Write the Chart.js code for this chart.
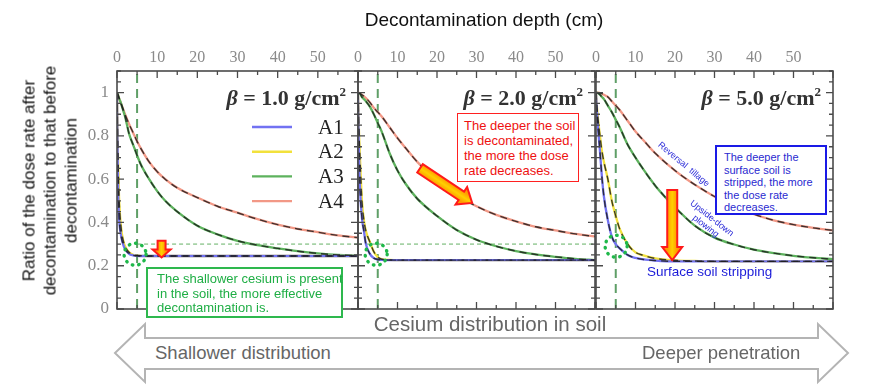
<!DOCTYPE html>
<html>
<head>
<meta charset="utf-8">
<title>Decontamination depth</title>
<script src="https://cdn.jsdelivr.net/npm/chart.js"></script>
<style>
  body { margin: 0; background: #fff; }
  #wrap { position: relative; width: 895px; height: 385px; overflow: hidden; font-family: "Liberation Sans", Arial, sans-serif; }
  #wrap canvas { position: absolute; }
  .txt { position: absolute; white-space: nowrap; }
  .box { position: absolute; background: #fff; box-sizing: border-box; white-space: nowrap; }
</style>
</head>
<body>
<div id="wrap">
  <svg width="895" height="385" style="position:absolute;left:0;top:0">
    <polygon points="115,353 145,324 145,338 818,338 818,324 848,353 818,382 818,369 145,369 145,382"
      fill="#fff" stroke="#b4b4b4" stroke-width="2" stroke-linejoin="miter"/>
  </svg>
</div>
<script>
// decontamination depth (cm), shared by every curve
const depth = [0, 0.25, 0.5, 1, 1.5, 2, 3, 4, 5, 6, 8, 10, 12, 15, 20, 25, 30, 35, 40, 45, 50, 55, 60];
const seriesNames = ['A1', 'A2', 'A3', 'A4'];
const betaValues = ['1.0', '2.0', '5.0'];

// ratio of dose rate after / before, beta = 1.0 g/cm2
const b1A1 = [1.0, 0.58, 0.43, 0.34, 0.30, 0.277, 0.255, 0.248, 0.246, 0.245, 0.245, 0.245, 0.245, 0.245, 0.245, 0.245, 0.245, 0.245, 0.245, 0.245, 0.245, 0.245, 0.245];
const b1A2 = [1.0, 0.70, 0.52, 0.38, 0.32, 0.29, 0.262, 0.251, 0.247, 0.246, 0.245, 0.245, 0.245, 0.245, 0.245, 0.245, 0.245, 0.245, 0.245, 0.245, 0.245, 0.245, 0.245];
const b1A3 = [1.0, 0.99, 0.975, 0.95, 0.92, 0.89, 0.81, 0.76, 0.71, 0.665, 0.60, 0.545, 0.50, 0.45, 0.385, 0.345, 0.315, 0.295, 0.28, 0.267, 0.257, 0.25, 0.247];
const b1A4 = [1.0, 0.99, 0.975, 0.95, 0.925, 0.90, 0.855, 0.815, 0.775, 0.74, 0.68, 0.635, 0.60, 0.56, 0.515, 0.475, 0.445, 0.415, 0.39, 0.37, 0.355, 0.34, 0.33];
// beta = 2.0 g/cm2
const b2A1 = [1.0, 0.72, 0.56, 0.42, 0.36, 0.30, 0.255, 0.235, 0.229, 0.227, 0.226, 0.226, 0.226, 0.226, 0.226, 0.226, 0.226, 0.226, 0.226, 0.226, 0.226, 0.226, 0.226];
const b2A2 = [1.0, 0.82, 0.70, 0.50, 0.41, 0.36, 0.31, 0.265, 0.24, 0.23, 0.227, 0.226, 0.226, 0.226, 0.226, 0.226, 0.226, 0.226, 0.226, 0.226, 0.226, 0.226, 0.226];
const b2A3 = [1.0, 0.998, 0.995, 0.98, 0.97, 0.96, 0.935, 0.90, 0.86, 0.82, 0.72, 0.64, 0.58, 0.51, 0.43, 0.365, 0.32, 0.29, 0.268, 0.252, 0.241, 0.232, 0.226];
const b2A4 = [1.0, 0.999, 0.997, 0.99, 0.983, 0.975, 0.955, 0.93, 0.91, 0.89, 0.84, 0.79, 0.745, 0.68, 0.595, 0.525, 0.475, 0.435, 0.405, 0.38, 0.363, 0.347, 0.335];
// beta = 5.0 g/cm2
const b3A1 = [1.0, 0.90, 0.84, 0.73, 0.61, 0.52, 0.41, 0.335, 0.30, 0.28, 0.25, 0.236, 0.229, 0.224, 0.22, 0.22, 0.22, 0.22, 0.22, 0.22, 0.22, 0.22, 0.22];
const b3A2 = [1.0, 0.93, 0.88, 0.80, 0.73, 0.68, 0.60, 0.50, 0.43, 0.37, 0.30, 0.262, 0.248, 0.234, 0.225, 0.222, 0.22, 0.22, 0.22, 0.22, 0.22, 0.22, 0.22];
const b3A3 = [1.0, 1.0, 0.998, 0.99, 0.98, 0.97, 0.94, 0.91, 0.875, 0.84, 0.76, 0.70, 0.645, 0.57, 0.47, 0.385, 0.33, 0.298, 0.274, 0.258, 0.246, 0.237, 0.23];
const b3A4 = [1.0, 1.0, 1.0, 0.998, 0.995, 0.99, 0.98, 0.96, 0.94, 0.92, 0.87, 0.82, 0.78, 0.72, 0.64, 0.575, 0.52, 0.475, 0.438, 0.41, 0.39, 0.375, 0.363];

const panelSeries = [[b1A1, b1A2, b1A3, b1A4], [b2A1, b2A2, b2A3, b2A4], [b3A1, b3A2, b3A3, b3A4]];
const refDepth = 5;     // green dashed vertical
const refRatio = 0.3;   // green dotted horizontal

const seriesColors = ['#7272f2', '#f2e13c', '#5db25d', '#f29886'];

// layout of the three panels (pixels)
const panelLeft = [117, 358, 596];
const panelRight = [358, 595, 833];
const plotTop = 71, plotH = 238, axisW = 45, axisH = 46, pad = 22;

// annotation marks per panel, in data units
const panelNotes = [
  { refFrom: 5, circle: [4.5, 0.253], legend: true,
    arrows: [{ from: [11.1, 0.315], to: [11.1, 0.238], shaft: 8, head: 18, headLen: 8 }] },
  { refFrom: 0, circle: [4.6, 0.253], legend: false,
    arrows: [{ from: [15.7, 0.65], to: [28.9, 0.49], shaft: 10, head: 21, headLen: 13 }] },
  { refFrom: null, circle: [5.1, 0.29], legend: false,
    arrows: [{ from: [19.3, 0.55], to: [19.3, 0.226], shaft: 10, head: 20, headLen: 13 }] }
];

function drawArrow(ctx, x1, y1, x2, y2, sw, hw, hl) {
  const dx = x2 - x1, dy = y2 - y1, L = Math.hypot(dx, dy);
  const ux = dx / L, uy = dy / L, nx = -uy, ny = ux;
  const hb = L - hl;
  const pts = [[0, -sw / 2], [hb, -sw / 2], [hb, -hw / 2], [L, 0], [hb, hw / 2], [hb, sw / 2], [0, sw / 2]];
  ctx.beginPath();
  pts.forEach((p, i) => {
    const X = x1 + p[0] * ux + p[1] * nx, Y = y1 + p[0] * uy + p[1] * ny;
    if (i === 0) ctx.moveTo(X, Y); else ctx.lineTo(X, Y);
  });
  ctx.closePath();
  const g = ctx.createLinearGradient(x1 + nx * sw / 2, y1 + ny * sw / 2, x1 - nx * sw / 2, y1 - ny * sw / 2);
  g.addColorStop(0, '#ff9a00');
  g.addColorStop(0.5, '#ffd000');
  g.addColorStop(1, '#ff9a00');
  ctx.fillStyle = g;
  ctx.fill();
  ctx.setLineDash([]);
  ctx.strokeStyle = '#ff1a1a';
  ctx.lineWidth = 2;
  ctx.lineJoin = 'miter';
  ctx.stroke();
}

const panelDecor = {
  id: 'panelDecor',
  beforeDatasetsDraw(chart, args, o) {
    const { ctx, chartArea: a, scales: { x, y } } = chart;
    ctx.save();
    if (o.refFrom !== null) {
      const yy = y.getPixelForValue(refRatio);
      ctx.strokeStyle = '#a6d2a6';
      ctx.lineWidth = 1.6;
      ctx.setLineDash([4, 3]);
      ctx.beginPath();
      ctx.moveTo(x.getPixelForValue(o.refFrom), yy);
      ctx.lineTo(a.right, yy);
      ctx.stroke();
    }
    const xx = x.getPixelForValue(refDepth);
    ctx.strokeStyle = '#5f9f67';
    ctx.lineWidth = 2;
    ctx.setLineDash([9, 6]);
    ctx.beginPath();
    ctx.moveTo(xx, a.top + 3);
    ctx.lineTo(xx, a.bottom);
    ctx.stroke();
    ctx.restore();
  },
  afterDraw(chart, args, o) {
    const { ctx, chartArea: a, scales: { x, y } } = chart;
    ctx.save();
    // dotted circle
    ctx.strokeStyle = '#1fb84a';
    ctx.lineWidth = 3.4;
    ctx.lineCap = 'round';
    ctx.setLineDash([0.5, 6]);
    ctx.beginPath();
    ctx.arc(x.getPixelForValue(o.circle[0]), y.getPixelForValue(o.circle[1]), 11, 0, Math.PI * 2);
    ctx.stroke();
    ctx.lineCap = 'butt';
    ctx.setLineDash([]);

    // frame with inward ticks
    ctx.strokeStyle = '#4a4a4a';
    ctx.lineWidth = 1.6;
    ctx.strokeRect(a.left, a.top, a.right - a.left, a.bottom - a.top);
    ctx.lineWidth = 1.3;
    ctx.beginPath();
    for (let d = 0; d <= 60; d += 5) {
      const len = d % 10 === 0 ? 7 : 4, px = x.getPixelForValue(d);
      ctx.moveTo(px, a.top); ctx.lineTo(px, a.top + len);
      ctx.moveTo(px, a.bottom); ctx.lineTo(px, a.bottom - len);
    }
    for (let k = 0; k <= 22; k++) {
      const len = k % 4 === 0 ? 7 : 4, py = y.getPixelForValue(k * 0.05);
      ctx.moveTo(a.left, py); ctx.lineTo(a.left + len, py);
      ctx.moveTo(a.right, py); ctx.lineTo(a.right - len, py);
    }
    ctx.stroke();

    // arrows
    o.arrows.forEach(ar => drawArrow(ctx,
      x.getPixelForValue(ar.from[0]), y.getPixelForValue(ar.from[1]),
      x.getPixelForValue(ar.to[0]), y.getPixelForValue(ar.to[1]),
      ar.shaft, ar.head, ar.headLen));

    // beta label
    const segs = [
      { t: '\u03b2', f: 'italic bold 22px "Liberation Serif"', dy: 0 },
      { t: ' = ' + o.beta + ' g/cm', f: 'bold 22px "Liberation Serif"', dy: 0 },
      { t: '2', f: 'bold 13px "Liberation Serif"', dy: -9 }
    ];
    let total = 0;
    segs.forEach(s => { ctx.font = s.f; s.w = ctx.measureText(s.t).width; total += s.w; });
    let cx = a.right - 12 - total;
    const base = a.top + 34;
    ctx.fillStyle = '#333';
    ctx.textAlign = 'left';
    ctx.textBaseline = 'alphabetic';
    segs.forEach(s => { ctx.font = s.f; ctx.fillText(s.t, cx, base + s.dy); cx += s.w; });

    // legend
    if (o.legend) {
      ctx.font = '21px "Liberation Serif"';
      ctx.textBaseline = 'middle';
      seriesNames.forEach((n, i) => {
        const ly = a.top + 56 + 24.7 * i;
        ctx.strokeStyle = seriesColors[i];
        ctx.lineWidth = 2.4;
        ctx.beginPath();
        ctx.moveTo(a.left + 135, ly);
        ctx.lineTo(a.left + 175, ly);
        ctx.stroke();
        ctx.fillStyle = '#222';
        ctx.fillText(n, a.left + 201, ly + 1);
      });
    }
    ctx.restore();
  }
};

const wrap = document.getElementById('wrap');

panelSeries.forEach((series, p) => {
  const plotW = panelRight[p] - panelLeft[p];
  const cv = document.createElement('canvas');
  cv.width = axisW + plotW + pad;
  cv.height = axisH + plotH + pad;
  cv.style.left = (panelLeft[p] - axisW) + 'px';
  cv.style.top = (plotTop - axisH) + 'px';
  wrap.appendChild(cv);

  const datasets = [];
  series.forEach((vals, s) => {
    const pts = depth.map((d, i) => ({ x: d, y: vals[i] }));
    datasets.push({ label: seriesNames[s], data: pts, borderColor: seriesColors[s], borderWidth: 2.3,
      pointRadius: 0, cubicInterpolationMode: 'monotone', fill: false, order: 1 });
    datasets.push({ label: seriesNames[s] + ' fit', data: pts, borderColor: 'rgba(30,30,30,0.85)', borderWidth: 1.4,
      borderDash: [7, 5], pointRadius: 0, cubicInterpolationMode: 'monotone', fill: false, order: 0 });
  });

  const notes = Object.assign({ beta: betaValues[p] }, panelNotes[p]);

  new Chart(cv, {
    type: 'line',
    data: { datasets: datasets },
    options: {
      responsive: false,
      animation: false,
      events: [],
      layout: { padding: { left: 0, top: 0, right: pad, bottom: pad } },
      plugins: {
        legend: { display: false },
        tooltip: { enabled: false },
        panelDecor: notes
      },
      scales: {
        x: {
          type: 'linear', position: 'top', min: 0, max: 60,
          grid: { display: false, drawTicks: false },
          border: { display: false },
          ticks: {
            stepSize: 10, autoSkip: false, maxRotation: 0, padding: 4, color: '#8a8a8a',
            font: { family: 'Liberation Serif', size: 16 },
            callback: v => (v === 60 ? '' : v)
          },
          afterFit: s => { s.height = axisH; }
        },
        y: {
          type: 'linear', min: 0, max: 1.1,
          grid: { display: false, drawTicks: false },
          border: { display: false },
          ticks: {
            stepSize: 0.2, padding: 8, color: p === 0 ? '#8a8a8a' : 'rgba(0,0,0,0)',
            font: { family: 'Liberation Serif', size: 17 },
            callback: v => (v > 1.05 ? '' : String(Math.round(v * 10) / 10))
          },
          afterFit: s => { s.width = axisW; }
        }
      }
    },
    plugins: [panelDecor]
  });
});

// text overlays
function addText(html, css, cls) {
  const el = document.createElement('div');
  el.className = cls || 'txt';
  el.innerHTML = html;
  Object.assign(el.style, css);
  wrap.appendChild(el);
  return el;
}

addText('Decontamination depth (cm)', { left: '334px', width: '300px', top: '9px', textAlign: 'center', fontSize: '19px', color: '#111' });
addText('Ratio of the dose rate after<br>decontamination to that before<br>decontamination',
  { left: '-90px', top: '149px', width: '280px', height: '63px', lineHeight: '21px', textAlign: 'center',
    fontSize: '17px', color: '#111', transform: 'rotate(-90deg)' });

addText('Cesium distribution in soil', { left: '340px', width: '300px', top: '312px', textAlign: 'center', fontSize: '20.5px', color: '#666' });
addText('Shallower distribution', { left: '155px', top: '342px', fontSize: '18.5px', color: '#666' });
addText('Deeper penetration', { left: '642px', top: '342px', fontSize: '18.5px', color: '#666' });

addText('The shallower cesium is present<br>in the soil, the more effective<br>decontamination is.',
  { left: '146px', top: '267px', width: '197px', height: '51px', border: '2px solid #2eb84e', color: '#1fae45',
    fontSize: '13px', lineHeight: '14.5px', padding: '3px 0 0 9px' }, 'box');
addText('The deeper the soil<br>is decontaminated,<br>the more the dose<br>rate decreases.',
  { left: '457px', top: '113px', width: '122px', height: '69px', border: '1.5px solid #ff2020', color: '#ee1111',
    fontSize: '13px', lineHeight: '15px', padding: '4px 0 0 6px' }, 'box');
addText('The deeper the<br>surface soil is<br>stripped, the more<br>the dose rate<br>decreases.',
  { left: '715px', top: '145px', width: '112px', height: '70px', border: '2px solid #1a1ae6', color: '#2a2ad0',
    fontSize: '11px', lineHeight: '12.6px', padding: '4px 0 0 7px' }, 'box');

addText('Surface soil stripping', { left: '647px', top: '264px', fontSize: '13.5px', color: '#1a1ad8' });
addText('Reversal&nbsp; tillage', { left: '644px', top: '159px', width: '80px', textAlign: 'center', fontSize: '9px',
  color: '#2a2ad8', transform: 'rotate(40deg)' });
addText('Upside-down<br>plowing', { left: '669px', top: '212px', width: '80px', textAlign: 'center', fontSize: '9px',
  lineHeight: '10px', color: '#2a2ad8', transform: 'rotate(38deg)' });
</script>
</body>
</html>
